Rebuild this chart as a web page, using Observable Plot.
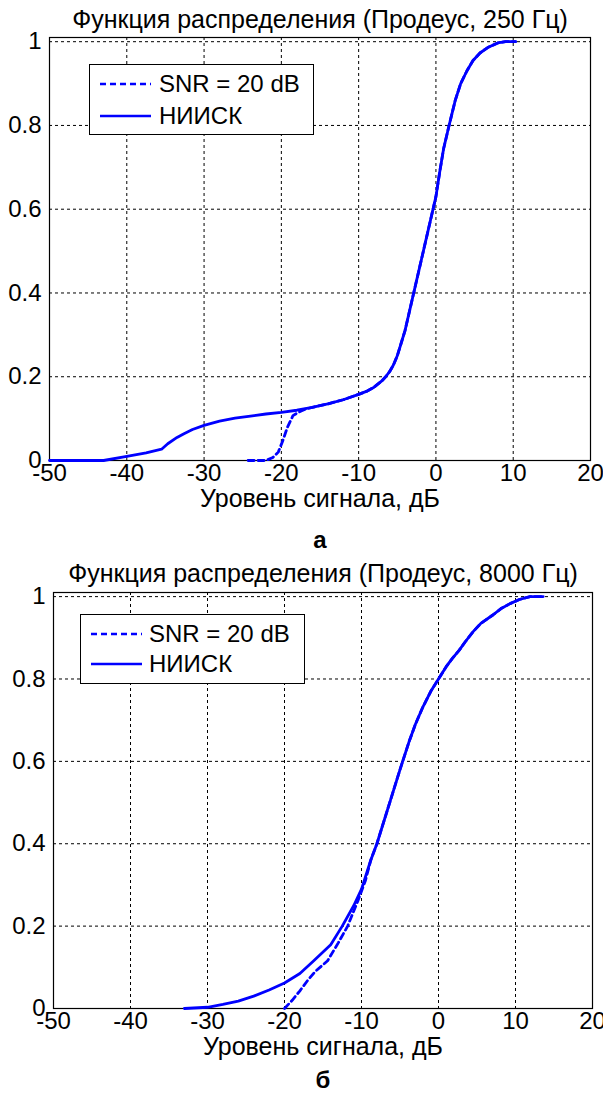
<!DOCTYPE html>
<html>
<head>
<meta charset="utf-8">
<script src="https://cdn.jsdelivr.net/npm/d3@7"></script>
<script src="https://cdn.jsdelivr.net/npm/@observablehq/plot@0.6"></script>
<style>
  html, body { margin: 0; padding: 0; background: #fff; }
  body { width: 603px; height: 1093px; position: relative; overflow: hidden;
         font-family: "Liberation Sans", Arial, sans-serif; }
  .panel { position: absolute; left: 0; }
  .legend { position: absolute; background: #fff; border: 1px solid #000; box-sizing: border-box; }
  .legend .lbl { position: absolute; font-size: 24px; line-height: 28px; white-space: nowrap; color: #000; }
  .legend svg { position: absolute; }
</style>
</head>
<body>
<div id="pa" class="panel" style="top:0"></div>
<div id="pb" class="panel" style="top:555px"></div>
<script>
// ---- data ----
const xTicks = [-50, -40, -30, -20, -10, 0, 10, 20];
const yTicks = [0, 0.2, 0.4, 0.6, 0.8, 1];
const seriesNames = ["SNR = 20 dB", "НИИСК"];
const titles = ["Функция распределения (Продеус, 250 Гц)", "Функция распределения (Продеус, 8000 Гц)"];
const xLabel = "Уровень сигнала, дБ";
const panelLetters = ["а", "б"];

// Panel a (250 Hz)
const aNiiskX = [-50, -43, -40, -37.5, -35.5, -34.7, -33.5, -32.6, -31.5, -30, -28, -26, -24, -22, -20, -18, -16, -14, -12, -10, -9, -8, -7, -6.5, -6, -5.5, -5, -4.5, -4, -3.5, -3, -2.5, -2, -1.5, -1, -0.5, 0, 0.5, 1, 1.7, 2.5, 3.2, 4, 4.8, 5.7, 6.7, 8, 9, 10.3];
const aNiiskY = [0, 0, 0.01, 0.018, 0.027, 0.04, 0.055, 0.064, 0.074, 0.084, 0.094, 0.101, 0.106, 0.111, 0.115, 0.12, 0.127, 0.135, 0.145, 0.158, 0.165, 0.175, 0.19, 0.2, 0.212, 0.228, 0.25, 0.28, 0.31, 0.35, 0.39, 0.43, 0.47, 0.51, 0.55, 0.59, 0.63, 0.69, 0.745, 0.80, 0.86, 0.90, 0.93, 0.955, 0.973, 0.986, 0.997, 1.0, 1.0];
const aSnrX = [-24.3, -22, -21.1, -20.4, -19.8, -19.2, -18.5, -17.9, -17, -16, -14, -12, -10, -9, -8, -7, -6.5, -6, -5.5, -5, -4.5, -4, -3.5, -3, -2.5, -2, -1.5, -1, -0.5, 0, 0.5, 1, 1.7, 2.5, 3.2, 4, 4.8, 5.7, 6.7, 8, 9, 10.3];
const aSnrY = [0, 0, 0.007, 0.02, 0.048, 0.08, 0.107, 0.114, 0.122, 0.127, 0.135, 0.145, 0.158, 0.165, 0.175, 0.19, 0.2, 0.212, 0.228, 0.25, 0.28, 0.31, 0.35, 0.39, 0.43, 0.47, 0.51, 0.55, 0.59, 0.63, 0.69, 0.745, 0.80, 0.86, 0.90, 0.93, 0.955, 0.973, 0.986, 0.997, 1.0, 1.0];

// Panel b (8000 Hz)
const bNiiskX = [-33, -30, -28, -26, -24, -22, -20, -18, -16.2, -14, -12.5, -11, -10, -8.8, -8, -7, -6, -5, -3.8, -3, -2.1, -1, 0, 1, 1.8, 2.7, 3.5, 4.5, 5.5, 7.1, 8.2, 9.3, 10.5, 11.9, 13.6];
const bNiiskY = [0, 0.003, 0.01, 0.018, 0.03, 0.045, 0.062, 0.085, 0.116, 0.155, 0.2, 0.25, 0.29, 0.36, 0.40, 0.46, 0.52, 0.58, 0.649, 0.69, 0.729, 0.77, 0.80, 0.83, 0.85, 0.87, 0.891, 0.915, 0.935, 0.956, 0.972, 0.983, 0.993, 1.0, 1.0];
const bSnrX = [-20, -19, -18, -17, -16, -14.4, -13, -11.8, -10.5, -9.5, -8.8, -8, -7, -6, -5, -3.8, -3, -2.1, -1, 0, 1, 1.8, 2.7, 3.5, 4.5, 5.5, 7.1, 8.2, 9.3, 10.5, 11.9, 13.6];
const bSnrY = [0, 0.02, 0.043, 0.068, 0.09, 0.116, 0.16, 0.2, 0.26, 0.31, 0.36, 0.40, 0.46, 0.52, 0.58, 0.649, 0.69, 0.729, 0.77, 0.80, 0.83, 0.85, 0.87, 0.891, 0.915, 0.935, 0.956, 0.972, 0.983, 0.993, 1.0, 1.0];

// ---- build ----
const BLUE = "#0000ff";
const FONT = "'Liberation Sans', Arial, sans-serif";
const toRows = (xs, ys) => xs.map((x, i) => ({x, y: ys[i]}));

function panel({title, letter, snr, niisk, height, marginTop, marginBottom, marginLeft, marginRight, titleDy, labelDy, letterDy}) {
  return Plot.plot({
    width: 603,
    height,
    marginTop, marginBottom, marginLeft, marginRight,
    style: {fontFamily: FONT, fontSize: "24px", color: "#000", background: "transparent", overflow: "visible"},
    x: {domain: [-50, 20], ticks: xTicks, tickSize: 0, tickPadding: 3, tickFormat: d => String(d), label: null},
    y: {domain: [0, 1.01], ticks: yTicks, tickSize: 0, tickPadding: 8, tickFormat: d => String(d), label: null},
    marks: [
      Plot.ruleX(xTicks, {stroke: "#000", strokeWidth: 1, strokeDasharray: "3,3"}),
      Plot.ruleY(yTicks, {stroke: "#000", strokeWidth: 1, strokeDasharray: "3,3"}),
      Plot.frame({stroke: "#000", strokeWidth: 1.2}),
      Plot.line(snr, {x: "x", y: "y", stroke: BLUE, strokeWidth: 2.8, strokeDasharray: "6,4"}),
      Plot.line(niisk, {x: "x", y: "y", stroke: BLUE, strokeWidth: 2.8}),
      Plot.text([title], {frameAnchor: "top", lineAnchor: "middle", dy: titleDy, fontSize: 25, fill: "#000"}),
      Plot.text([xLabel], {frameAnchor: "bottom", lineAnchor: "middle", dy: labelDy, fontSize: 25, fill: "#000"}),
      Plot.text([letter], {frameAnchor: "bottom", lineAnchor: "middle", dy: letterDy, fontSize: 24, fontWeight: "bold", fill: "#000"})
    ]
  });
}

const plotA = panel({
  title: titles[0], letter: panelLetters[0],
  snr: toRows(aSnrX, aSnrY), niisk: toRows(aNiiskX, aNiiskY),
  height: 555, marginTop: 37, marginBottom: 95, marginLeft: 49, marginRight: 13,
  titleDy: -18, labelDy: 38, letterDy: 80
});
const plotB = panel({
  title: titles[1], letter: panelLetters[1],
  snr: toRows(bSnrX, bSnrY), niisk: toRows(bNiiskX, bNiiskY),
  height: 538, marginTop: 37, marginBottom: 85, marginLeft: 53, marginRight: 11,
  titleDy: -19, labelDy: 38, letterDy: 72
});
document.getElementById("pa").appendChild(plotA);
document.getElementById("pb").appendChild(plotB);

function legend(parent, left, top, w, h, rowYs, lineX0, lineX1, textX) {
  const box = document.createElement("div");
  box.className = "legend";
  Object.assign(box.style, {left: left + "px", top: top + "px", width: w + "px", height: h + "px"});
  seriesNames.forEach((name, i) => {
    const svg = document.createElementNS("http://www.w3.org/2000/svg", "svg");
    svg.setAttribute("width", lineX1 - lineX0);
    svg.setAttribute("height", 6);
    svg.style.left = (lineX0 - left) + "px";
    svg.style.top = (rowYs[i] - top - 3) + "px";
    const ln = document.createElementNS("http://www.w3.org/2000/svg", "line");
    ln.setAttribute("x1", 0); ln.setAttribute("x2", lineX1 - lineX0);
    ln.setAttribute("y1", 3); ln.setAttribute("y2", 3);
    ln.setAttribute("stroke", BLUE); ln.setAttribute("stroke-width", 2.5);
    if (i === 0) ln.setAttribute("stroke-dasharray", "6,4");
    svg.appendChild(ln);
    box.appendChild(svg);
    const t = document.createElement("div");
    t.className = "lbl";
    t.textContent = name;
    t.style.left = (textX - left) + "px";
    t.style.top = (rowYs[i] - top - 14) + "px";
    box.appendChild(t);
  });
  parent.appendChild(box);
}
legend(document.body, 89, 64, 225, 71, [83, 115], 99, 150, 158);
legend(document.body, 80, 614, 225, 70, [633, 663], 90, 141, 148);
</script>
</body>
</html>
